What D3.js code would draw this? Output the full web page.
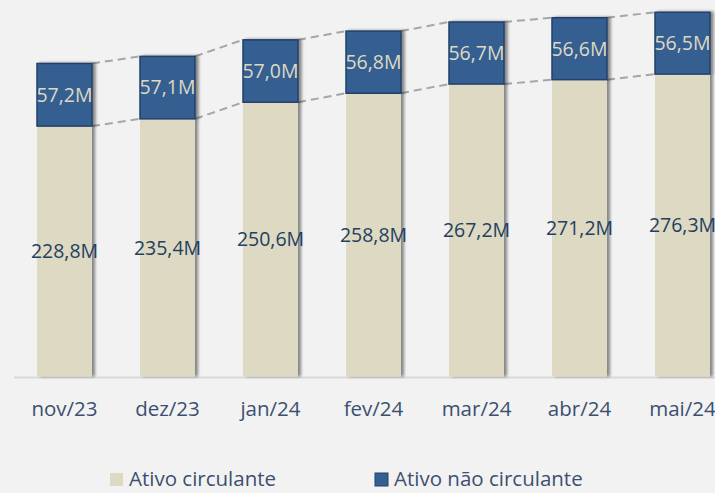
<!DOCTYPE html>
<html>
<head>
<meta charset="utf-8">
<script src="https://cdn.jsdelivr.net/npm/d3@7"></script>
<style>
  body { margin: 0; background: #f2f2f2; }
  svg { display: block; font-family: "Open Sans", sans-serif; }
</style>
</head>
<body>
<div class="chart"></div>
<script>
// data
var meses = ["nov/23", "dez/23", "jan/24", "fev/24", "mar/24", "abr/24", "mai/24"];
var circulante = [228.8, 235.4, 250.6, 258.8, 267.2, 271.2, 276.3];
var naoCirculante = [57.2, 57.1, 57.0, 56.8, 56.7, 56.6, 56.5];
var legendas = ["Ativo circulante", "Ativo não circulante"];

var fmt = function(v) { return v.toFixed(1).replace(".", ",") + "M"; };

var W = 715, H = 493;
var corBege = "#ddd9c3", corAzul = "#365f91";

var svg = d3.select(".chart").append("svg")
    .attr("width", W)
    .attr("height", H);

svg.append("rect").attr("width", W).attr("height", H).attr("fill", "#f2f2f2");

// shadow for the bars
var defs = svg.append("defs");
var f = defs.append("filter").attr("id", "sombra")
    .attr("x", "-10%").attr("y", "-10%").attr("width", "130%").attr("height", "120%");
f.append("feGaussianBlur").attr("in", "SourceAlpha").attr("stdDeviation", 1.5);
f.append("feOffset").attr("dx", 3).attr("dy", 0).attr("result", "off");
f.append("feComponentTransfer").append("feFuncA").attr("type", "linear").attr("slope", 0.45);
var m = f.append("feMerge");
m.append("feMergeNode");
m.append("feMergeNode").attr("in", "SourceGraphic");

var x = d3.scaleBand()
    .domain(meses)
    .range([13, 13 + 103 * meses.length])
    .paddingInner(0.466)
    .paddingOuter(0.233);

var y = d3.scaleLinear()
    .domain([0, 344])
    .range([376.5, 0]);

var dados = meses.map(function(m, i) {
  return { mes: m, a: circulante[i], b: naoCirculante[i] };
});

// dashed connectors
var linhas = svg.append("g");
for (var i = 0; i < dados.length - 1; i++) {
  var d0 = dados[i], d1 = dados[i + 1];
  [[d0.a + d0.b, d1.a + d1.b], [d0.a, d1.a]].forEach(function(p) {
    linhas.append("line")
        .attr("x1", x(d0.mes) + x.bandwidth())
        .attr("x2", x(d1.mes))
        .attr("y1", y(p[0]))
        .attr("y2", y(p[1]))
        .attr("stroke", "#a6a6a6")
        .attr("stroke-width", 2)
        .attr("stroke-dasharray", "8,5");
  });
}

// axis line
svg.append("line")
    .attr("x1", 14).attr("x2", W)
    .attr("y1", y(0) + 1).attr("y2", y(0) + 1)
    .attr("stroke", "#d9d9d9").attr("stroke-width", 2);

var barras = svg.append("g").attr("filter", "url(#sombra)");

barras.selectAll(".circ")
    .data(dados)
  .enter().append("rect")
    .attr("class", "circ")
    .attr("x", function(d) { return x(d.mes); })
    .attr("width", x.bandwidth())
    .attr("y", function(d) { return y(d.a); })
    .attr("height", function(d) { return y(0) - y(d.a); })
    .attr("fill", corBege);

barras.selectAll(".nao")
    .data(dados)
  .enter().append("rect")
    .attr("class", "nao")
    .attr("x", function(d) { return x(d.mes); })
    .attr("width", x.bandwidth())
    .attr("y", function(d) { return y(d.a + d.b); })
    .attr("height", function(d) { return y(d.a) - y(d.a + d.b); })
    .attr("fill", corAzul)
    .attr("stroke", "#24406a")
    .attr("stroke-width", 1.5);

// value labels
svg.selectAll(".lblA")
    .data(dados)
  .enter().append("text")
    .attr("x", function(d) { return x(d.mes) + x.bandwidth() / 2; })
    .attr("y", function(d) { return (y(0) + y(d.a)) / 2; })
    .attr("dy", "0.35em")
    .attr("text-anchor", "middle")
    .attr("font-size", 19.5)
    .attr("fill", "#243f60")
    .text(function(d) { return fmt(d.a); });

svg.selectAll(".lblB")
    .data(dados)
  .enter().append("text")
    .attr("x", function(d) { return x(d.mes) + x.bandwidth() / 2; })
    .attr("y", function(d) { return (y(d.a) + y(d.a + d.b)) / 2; })
    .attr("dy", "0.35em")
    .attr("text-anchor", "middle")
    .attr("font-size", 19.5)
    .attr("fill", corBege)
    .text(function(d) { return fmt(d.b); });

// x axis labels
svg.selectAll(".mes")
    .data(meses)
  .enter().append("text")
    .attr("x", function(d) { return x(d) + x.bandwidth() / 2; })
    .attr("y", 409)
    .attr("dy", "0.35em")
    .attr("text-anchor", "middle")
    .attr("font-size", 20.5)
    .attr("fill", "#3b5070")
    .text(function(d) { return d; });

// legend
var leg = [{ x: 110, cor: corBege, borda: "none" }, { x: 375, cor: corAzul, borda: "#24406a" }];
leg.forEach(function(l, i) {
  svg.append("rect")
      .attr("x", l.x).attr("y", 473)
      .attr("width", 13).attr("height", 13)
      .attr("fill", l.cor)
      .attr("stroke", l.borda);
  svg.append("text")
      .attr("x", l.x + 19).attr("y", 486)
      .attr("font-size", 20.5)
      .attr("fill", "#3b5070")
      .text(legendas[i]);
});
</script>
</body>
</html>
